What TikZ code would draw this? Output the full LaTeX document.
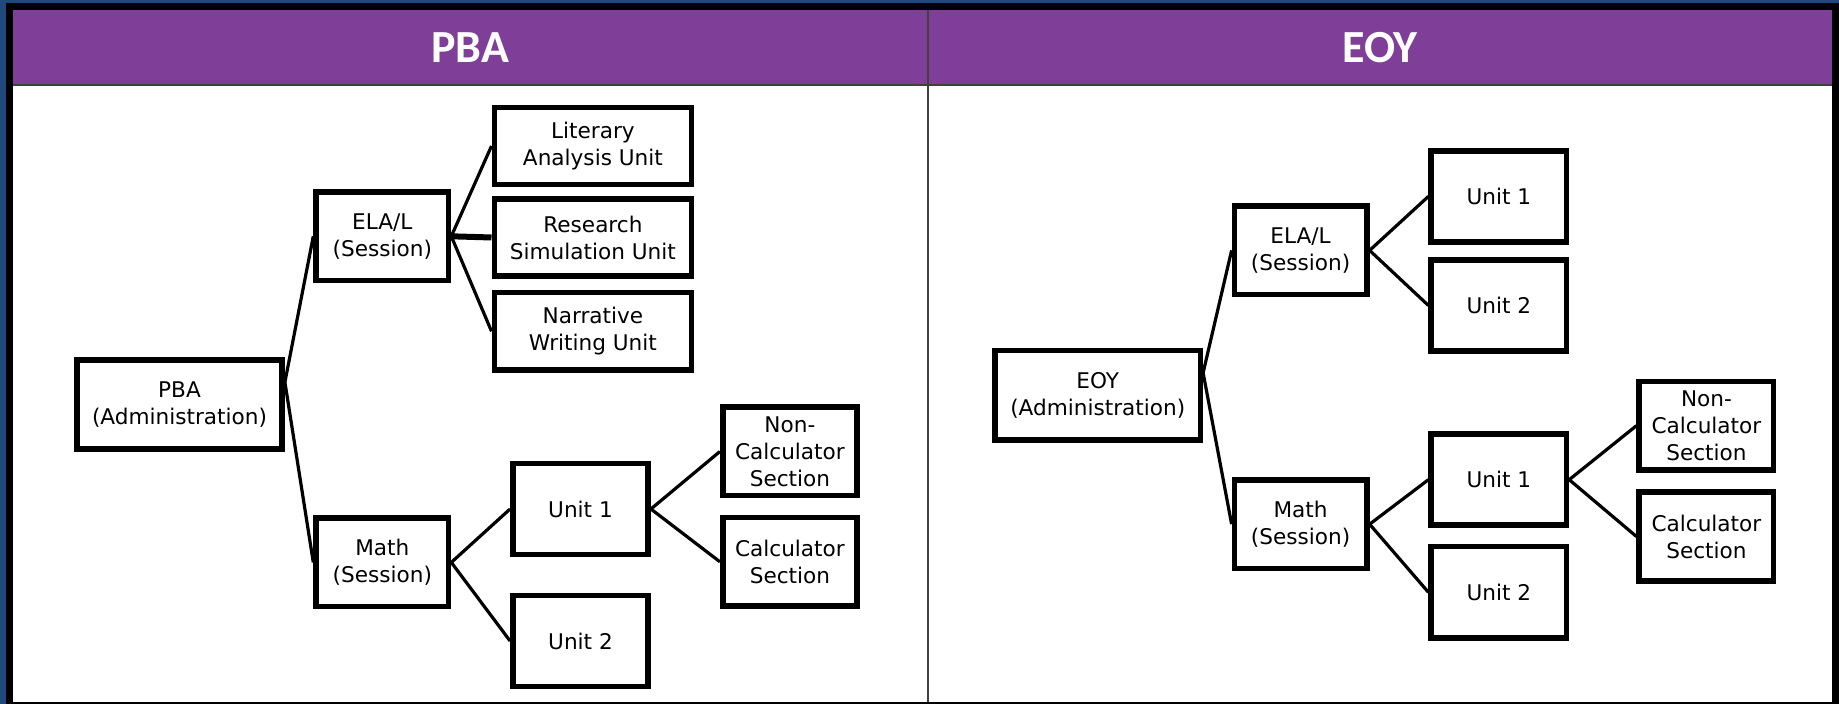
\documentclass[tikz,border=0pt]{standalone}
\usepackage{fontspec}
\setmainfont{DejaVu Sans}
\newfontfamily\headfont{Carlito}
\definecolor{hdpurple}{RGB}{127,63,152}
\definecolor{frameblue}{RGB}{31,73,125}

\begin{document}
\begin{tikzpicture}
[%%%%%%%%%%%%%%%%%%%%%%%%%%%%%%
x=0.5pt,y=-0.5pt,
box/.style={rectangle,draw=black,line width=2.8pt,align=center,inner sep=0pt,
  font=\fontsize{10.8}{13.5}\selectfont},
admbox/.style={box,minimum width=102.6pt,minimum height=44.6pt},
sessbox/.style={box,minimum width=66.2pt,minimum height=44.1pt},
unitbox/.style={box,minimum width=67.6pt,minimum height=45.6pt},
secbox/.style={box,minimum width=67.2pt,minimum height=44.2pt},
elabox/.style={box,minimum width=98.6pt,minimum height=38.6pt},
link/.style={line width=1.6pt},
head/.style={text=white,font=\headfont\bfseries\fontsize{23}{27}\selectfont},
]%%%%%%%%%%%%%%%%%%%%%%%%%%%%%%
\useasboundingbox (0,0) rectangle (1839,704);

% frame and header
\fill[frameblue] (0,0) rectangle (1839,704);
\fill[black] (6,3) rectangle (1839,704);
\fill[white] (13,10) rectangle (1832,702);
\fill[hdpurple] (13,10) rectangle (1832,85);
\draw[black!75,line width=1pt] (13,85.5) -- (1832,85.5);
\draw[black!75,line width=1pt] (928,10) -- (928,702);
\node[head] (pbahead) at (470,48){PBA};
\node[head] (eoyhead) at (1380,48){EOY};

% PBA
\node[admbox] (pbaadm) at (179.5,404.6){PBA\\(Administration)};
\node[sessbox] (pbaela) at (382.3,236.3){ELA/L\\(Session)};
\node[elabox] (litunit) at (592.9,146){Literary\\Analysis Unit};
\node[elabox] (resunit) at (592.9,237.5){Research\\Simulation Unit};
\node[elabox] (narunit) at (592.9,331.3){Narrative\\Writing Unit};
\node[sessbox] (pbamath) at (382.3,562.4){Math\\(Session)};
\node[unitbox] (pbaunita) at (580.5,509){Unit 1};
\node[unitbox] (pbaunitb) at (580.5,641){Unit 2};
\node[secbox] (pbanoncalc) at (789.9,451.5){Non-\\Calculator\\Section};
\node[secbox] (pbacalc) at (789.9,561.8){Calculator\\Section};

% EOY
\node[admbox] (eoyadm) at (1097.7,395.2){EOY\\(Administration)};
\node[sessbox] (eoyela) at (1300.6,250.4){ELA/L\\(Session)};
\node[unitbox] (eoyelaunita) at (1498.8,196.4){Unit 1};
\node[unitbox] (eoyelaunitb) at (1498.8,305.5){Unit 2};
\node[sessbox] (eoymath) at (1300.6,524.2){Math\\(Session)};
\node[unitbox] (eoyunita) at (1498.8,479.7){Unit 1};
\node[unitbox] (eoyunitb) at (1498.8,592.3){Unit 2};
\node[secbox] (eoynoncalc) at (1706.4,425.7){Non-\\Calculator\\Section};
\node[secbox] (eoycalc) at (1706.4,536.5){Calculator\\Section};

% links
\draw[link] (pbaadm.12) -- (pbaela.west);
\draw[link] (pbaadm.12) -- (pbamath.west);
\draw[link] (eoyadm.12) -- (eoyela.west);
\draw[link] (eoyadm.12) -- (eoymath.west);
\foreach \a/\b in {pbaela/litunit,pbaela/narunit,pbamath/pbaunita,pbamath/pbaunitb,
  pbaunita/pbanoncalc,pbaunita/pbacalc,eoyela/eoyelaunita,eoyela/eoyelaunitb,
  eoymath/eoyunita,eoymath/eoyunitb,eoyunita/eoynoncalc,eoyunita/eoycalc}
\draw[link] (\a.east) -- (\b.west);
\draw[link,line width=3pt] (pbaela.east) -- (resunit.west);
\end{tikzpicture}
\end{document}
